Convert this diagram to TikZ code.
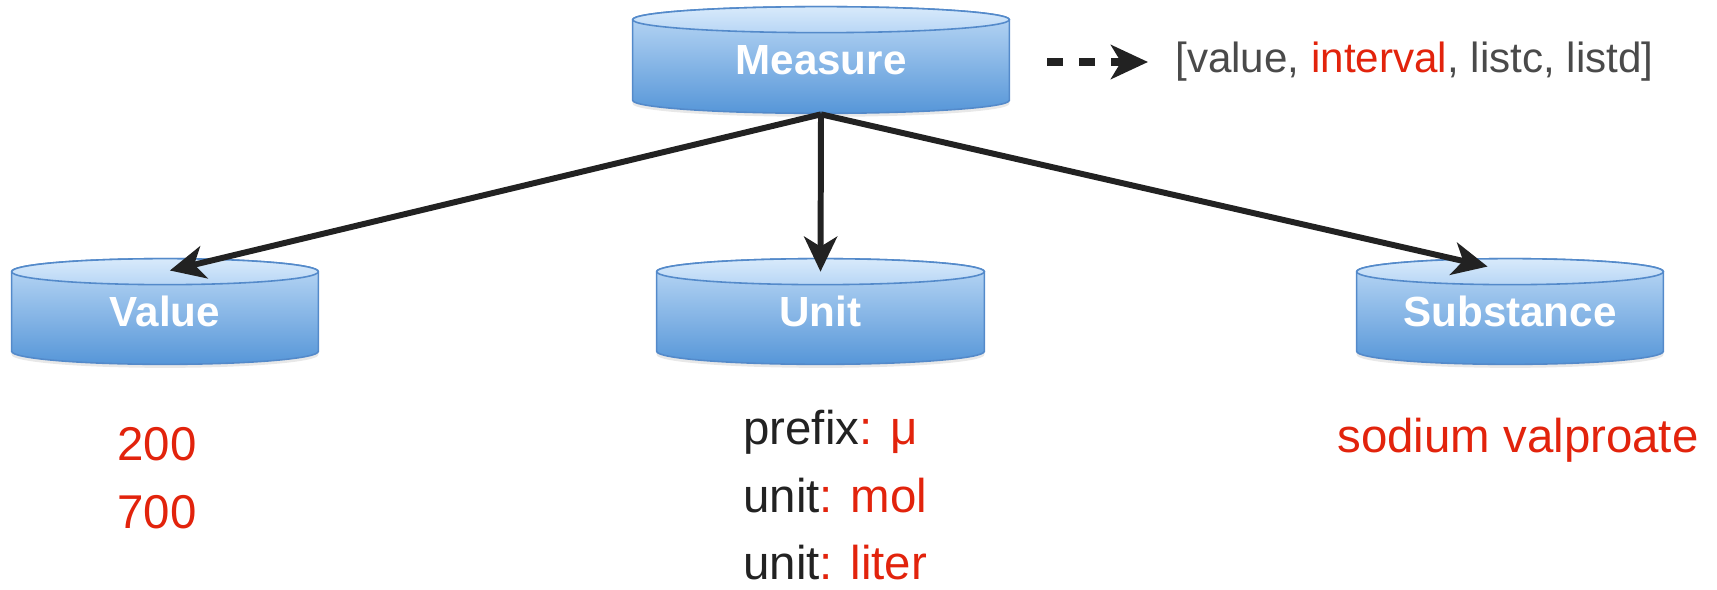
\documentclass[tikz,border=0pt]{standalone}
\usepackage{fontspec}
\setmainfont{Liberation Sans}
\usepackage{tikz}
\usetikzlibrary{arrows.meta,calc,positioning,backgrounds,shadows}
\definecolor{dbtop}{RGB}{190,218,246}
\definecolor{dbbot}{RGB}{86,150,216}
\definecolor{dbline}{RGB}{84,138,202}
\definecolor{facetop}{RGB}{216,234,251}
\definecolor{facebot}{RGB}{184,214,245}
\definecolor{redtxt}{RGB}{226,35,12}
\definecolor{darktxt}{RGB}{34,34,34}
\definecolor{graytxt}{RGB}{74,74,74}
\tikzset{
  db/.style={rectangle, inner sep=0pt, minimum height=1.58cm, text=white,
    font=\fontsize{24}{28}\selectfont\bfseries},
  link/.style={-{Stealth[length=0.7cm,width=0.66cm,inset=0.2cm]},
    line width=3.4pt, draw=darktxt},
  hint/.style={-{Stealth[length=0.74cm,width=0.68cm,inset=0.2cm]},
    line width=4pt, draw=darktxt, dash pattern=on 0.32cm off 0.32cm},
  val/.style={anchor=base west, inner sep=0pt, text=redtxt,
    font=\fontsize{27}{32}\selectfont},
  lbl/.style={anchor=base west, inner sep=0pt, text=darktxt,
    font=\fontsize{27}{32}\selectfont}
}

\begin{document}
\begin{tikzpicture}[x=0.02cm, y=-0.02cm]
  \useasboundingbox (0,0) rectangle (1717,589);

  % --- Cylinders ---
  \node[db, minimum width=7.52cm, minimum height=1.6cm] (measure) at (821,60) {Measure};
  \node[db, minimum width=6.12cm] (value) at (165,311.5) {Value};
  \node[db, minimum width=6.54cm] (unit) at (820.5,311.5) {Unit};
  \node[db, minimum width=6.12cm] (substance) at (1510,311.5) {Substance};

  \begin{scope}[on background layer]
    \foreach \c in {measure,value,unit,substance}{
      \path[draw=dbline, line width=0.9pt, top color=dbtop, bottom color=dbbot,
            drop shadow={shadow xshift=0pt, shadow yshift=-2pt, opacity=0.18}]
        let \p1=($(\c.east)-(\c.west)$) in
        (\c.north west) -- (\c.south west)
        arc[start angle=180, end angle=360, x radius=0.5*\x1, y radius=0.26cm]
        -- (\c.north east)
        arc[start angle=0, end angle=180, x radius=0.5*\x1, y radius=0.26cm] -- cycle;
      \path[draw=dbline, line width=0.9pt, top color=facetop, bottom color=facebot]
        let \p1=($(\c.east)-(\c.west)$) in
        (\c.north) ellipse[x radius=0.5*\x1, y radius=0.26cm];
    }
  \end{scope}

  % --- Links ---
  \coordinate (hub) at ([yshift=-0.28cm]measure.south);
  \draw[link, shorten >=0.1cm] (hub) -- (value.north);
  \draw[link] (hub) -- (unit.north);
  \draw[link, shorten >=0.46cm] (hub) -- (substance.north);

  % --- Legend ---
  \node[anchor=west, inner sep=0pt, text=graytxt, font=\fontsize{24}{28}\selectfont]
    (legend) at (1175,62) {[value, \textcolor{redtxt}{interval}, listc, listd]};
  \coordinate (dstart) at (1047,62);
  \draw[hint, shorten >=0.54cm] (dstart) -- (legend.west);

  % --- Values ---
  \node[val] (v1) at (117,460) {200};
  \node[val] (v2) at (117,528) {700};

  \node[lbl] (u1) at (743,444) {prefix\textcolor{redtxt}{: μ}};
  \node[lbl] (u2) at (743,512) {unit\textcolor{redtxt}{: mol}};
  \node[lbl] (u3) at (743,579) {unit\textcolor{redtxt}{: liter}};

  \node[val] (s1) at (1337,452) {sodium valproate};
\end{tikzpicture}
\end{document}
